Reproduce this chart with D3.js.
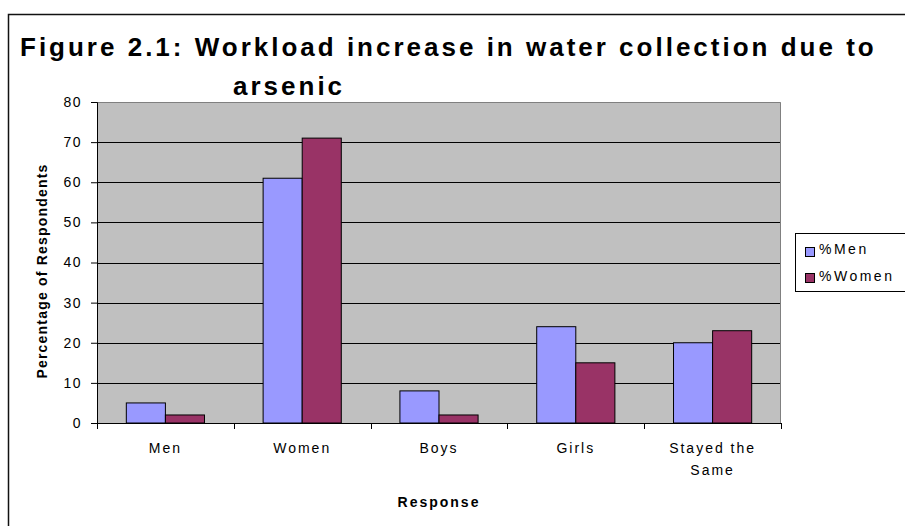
<!DOCTYPE html>
<html>
<head>
<meta charset="utf-8">
<script src="https://cdn.jsdelivr.net/npm/d3@7/dist/d3.min.js"></script>
<style>
  body { margin: 0; background: #fff; }
  svg { display: block; font-family: Arial, "Liberation Sans", sans-serif; }
</style>
</head>
<body>
<svg width="905" height="526"></svg>
<script>
// chart data
var categories = ["Men", "Women", "Boys", "Girls", "Stayed the Same"];
var categoryLabels = [["Men"], ["Women"], ["Boys"], ["Girls"], ["Stayed the", "Same"]];
var seriesNames = ["%Men", "%Women"];
var menValues = [5, 61, 8, 24, 20];
var womenValues = [2, 71, 2, 15, 23];
var yTicks = [0, 10, 20, 30, 40, 50, 60, 70, 80];
var colors = ["#9999ff", "#993366"];

var svg = d3.select("svg"),
  margin = { top: 102, right: 124, bottom: 103, left: 97 },
  width = 905 - margin.left - margin.right,
  height = 526 - margin.top - margin.bottom;

// outer chart border (runs off the right and bottom edge)
svg.append("rect")
  .attr("x", 8.5)
  .attr("y", 14.5)
  .attr("width", 1000)
  .attr("height", 1000)
  .attr("fill", "none")
  .attr("stroke", "#111")
  .attr("stroke-width", 1.5);

// title
var title = svg.append("text")
  .style("font-size", "26px")
  .style("font-weight", "bold")
  .style("letter-spacing", "3px")
  .attr("fill", "#000");
title.append("tspan").attr("x", 20).attr("y", 56)
  .text("Figure 2.1: Workload increase in water collection due to");
title.append("tspan").attr("x", 233).attr("y", 95)
  .text("arsenic");

var x0 = d3.scaleBand().domain(categories).range([0, width]).paddingInner(0).paddingOuter(0);
var x1 = d3.scaleBand().domain(seriesNames).range([0, x0.bandwidth()])
  .paddingInner(0).paddingOuter(0.75);
var y = d3.scaleLinear().domain([0, 80]).range([height, 0]);

var g = svg.append("g")
  .attr("transform", "translate(" + margin.left + "," + margin.top + ")");

// plot background
g.append("rect")
  .attr("width", width)
  .attr("height", height)
  .attr("fill", "#c0c0c0");

// gridlines
g.append("g")
  .selectAll("line")
  .data(yTicks.filter(function (d) { return d > 0 && d < 80; }))
  .enter()
  .append("line")
  .attr("x1", 0)
  .attr("x2", width)
  .attr("y1", function (d) { return Math.round(y(d)) + 0.5; })
  .attr("y2", function (d) { return Math.round(y(d)) + 0.5; })
  .attr("stroke", "#000")
  .attr("stroke-width", 1);

// plot area border top / right
g.append("path")
  .attr("d", "M0,0.5H" + (width - 0.5) + "V" + height)
  .attr("fill", "none")
  .attr("stroke", "#808080")
  .attr("stroke-width", 1);

// bars
var rows = categories.map(function (c, i) {
  return { cat: c, values: [menValues[i], womenValues[i]] };
});

g.selectAll(".group")
  .data(rows)
  .enter()
  .append("g")
  .attr("class", "group")
  .attr("transform", function (d) { return "translate(" + x0(d.cat) + ",0)"; })
  .selectAll("rect")
  .data(function (d) { return d.values.map(function (v, j) { return { s: seriesNames[j], v: v, j: j }; }); })
  .enter()
  .append("rect")
  .attr("x", function (d) { return x1(d.s); })
  .attr("y", function (d) { return y(d.v); })
  .attr("width", x1.bandwidth())
  .attr("height", function (d) { return height - y(d.v); })
  .attr("fill", function (d) { return colors[d.j]; })
  .attr("stroke", "#000")
  .attr("stroke-width", 1);

// y axis
var yAxis = d3.axisLeft(y).tickValues(yTicks).tickSize(6).tickPadding(9);
var yg = g.append("g").call(yAxis);
yg.select(".domain").attr("stroke", "#000");
yg.selectAll("text")
  .style("font-size", "14px")
  .style("font-family", "Arial, 'Liberation Sans', sans-serif")
  .style("letter-spacing", "1.5px")
  .attr("fill", "#000");

// x axis: ticks at category boundaries
var xg = g.append("g").attr("transform", "translate(0," + height + ")");
xg.append("line")
  .attr("x1", 0).attr("x2", width)
  .attr("y1", 0.5).attr("y2", 0.5)
  .attr("stroke", "#000");
xg.selectAll(".tick")
  .data(categories.concat(["end"]))
  .enter()
  .append("line")
  .attr("x1", function (d, i) { return Math.round(i < categories.length ? x0(d) : width) + 0.5; })
  .attr("x2", function (d, i) { return Math.round(i < categories.length ? x0(d) : width) + 0.5; })
  .attr("y1", 0)
  .attr("y2", 6)
  .attr("stroke", "#000");

xg.selectAll(".cat-label")
  .data(categories)
  .enter()
  .append("text")
  .attr("class", "cat-label")
  .attr("text-anchor", "middle")
  .style("font-size", "14px")
  .style("letter-spacing", "2px")
  .attr("fill", "#000")
  .each(function (d, i) {
    var t = d3.select(this);
    categoryLabels[i].forEach(function (line, k) {
      t.append("tspan")
        .attr("x", x0(d) + x0.bandwidth() / 2)
        .attr("y", 30 + k * 22)
        .text(line);
    });
  });

// axis titles
svg.append("text")
  .attr("x", margin.left + width / 2)
  .attr("y", 507)
  .attr("text-anchor", "middle")
  .style("font-size", "14px")
  .style("font-weight", "bold")
  .style("letter-spacing", "2px")
  .text("Response");

svg.append("text")
  .attr("text-anchor", "middle")
  .attr("transform", "translate(47,271)rotate(-90)")
  .style("font-size", "14px")
  .style("font-weight", "bold")
  .style("letter-spacing", "1.2px")
  .text("Percentage of Respondents");

// legend
var legend = svg.append("g").attr("transform", "translate(795,233)");
legend.append("rect")
  .attr("x", 0.5).attr("y", 0.5)
  .attr("width", 200).attr("height", 58)
  .attr("fill", "#fff")
  .attr("stroke", "#000");
seriesNames.forEach(function (name, i) {
  legend.append("rect")
    .attr("x", 10.5)
    .attr("y", 14.5 + i * 26)
    .attr("width", 9)
    .attr("height", 9)
    .attr("fill", colors[i])
    .attr("stroke", "#000");
  legend.append("text")
    .attr("x", 24)
    .attr("y", 20.5 + i * 27)
    .style("font-size", "14px")
    .style("letter-spacing", "2.5px")
    .attr("fill", "#000")
    .text(name);
});
</script>
</body>
</html>
